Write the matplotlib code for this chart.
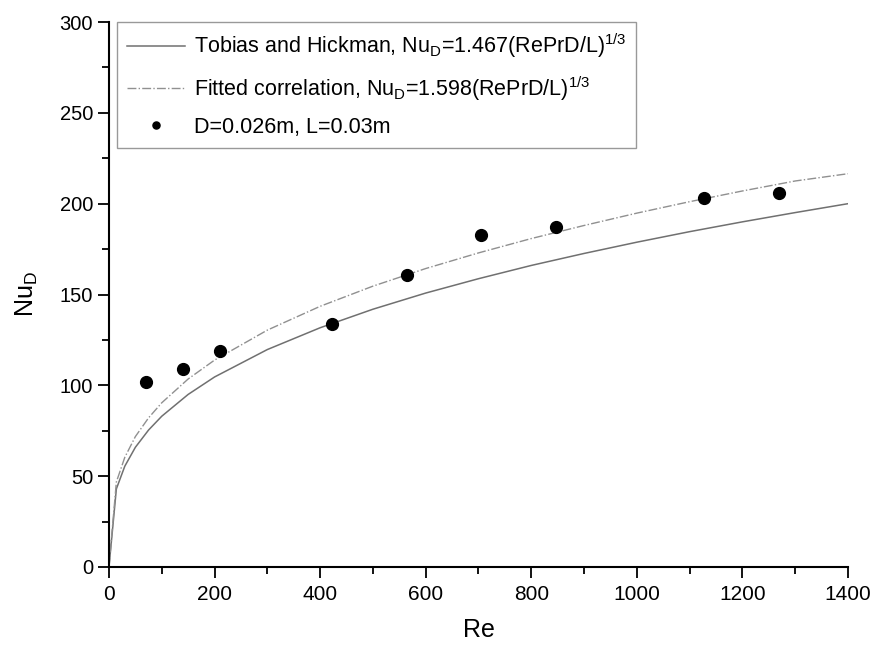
import matplotlib
matplotlib.use("Agg")
import matplotlib.pyplot as plt
from matplotlib.ticker import MultipleLocator

plt.rcParams['font.family'] = ['Liberation Sans', 'DejaVu Sans']
plt.rcParams['mathtext.fontset'] = 'custom'
plt.rcParams['mathtext.rm'] = 'Liberation Sans'
plt.rcParams['mathtext.it'] = 'Liberation Sans'

# values
re_curve = [0, 14, 30, 50, 75, 100, 150, 200, 300, 400, 500, 600, 700,
            800, 900, 1000, 1100, 1200, 1300, 1400]
nu_tobias = [0, 43.0, 55.5, 65.9, 75.4, 83.0, 95.0, 104.6, 119.7, 131.7,
             141.9, 150.8, 158.7, 166.0, 172.6, 178.8, 184.6, 190.0, 195.1, 200.0]
nu_fitted = [0, 46.8, 60.4, 71.8, 82.1, 90.4, 103.5, 113.9, 130.4, 143.5,
             154.6, 164.3, 172.9, 180.8, 188.0, 194.8, 201.1, 207.0, 212.5, 216.5]

# measured points
re_meas = [70, 141, 211, 423, 564, 705, 846, 1128, 1270]
nu_meas = [102, 109, 119, 134, 161, 183, 187, 203, 206]

fig = plt.figure(figsize=(8.76, 6.48), dpi=100)
ax = fig.add_axes([0.1244, 0.125, 0.8436, 0.841])

ax.plot(re_curve, nu_tobias, color='#707070', lw=1.1,
        label=r'Tobias and Hickman, Nu$_\mathregular{D}$=1.467(RePrD/L)$^\mathregular{1/3}$')
ax.plot(re_curve, nu_fitted, color='#909090', lw=1.0, ls='-.',
        label=r'Fitted correlation, Nu$_\mathregular{D}$=1.598(RePrD/L)$^\mathregular{1/3}$')
ax.plot(re_meas, nu_meas, 'o', color='black', ms=8.5, label='D=0.026m, L=0.03m')

ax.set_xlim(0, 1400)
ax.set_ylim(0, 300)
ax.xaxis.set_major_locator(MultipleLocator(200))
ax.xaxis.set_minor_locator(MultipleLocator(100))
ax.yaxis.set_major_locator(MultipleLocator(50))
ax.yaxis.set_minor_locator(MultipleLocator(25))

ax.spines['top'].set_visible(False)
ax.spines['right'].set_visible(False)
ax.spines['left'].set_linewidth(1.5)
ax.spines['bottom'].set_linewidth(1.5)

ax.tick_params(which='major', direction='out', length=8, width=1.3)
ax.tick_params(which='minor', direction='out', length=5, width=1.3)
ax.tick_params(axis='y', labelsize=14.5)
ax.tick_params(axis='x', labelsize=15, pad=5)

ax.set_xlabel('Re', fontsize=18, labelpad=10)
ax.set_ylabel(r'Nu$_\mathregular{D}$', fontsize=18, labelpad=14)

leg = ax.legend(loc='upper left', bbox_to_anchor=(0.011, 1.0), fontsize=15.5,
                frameon=True, fancybox=False, borderpad=0.45, labelspacing=0.65,
                handlelength=2.7, handletextpad=0.4, borderaxespad=0.0,
                markerscale=0.6)
leg.get_frame().set_edgecolor('#808080')
leg.get_frame().set_linewidth(1.0)

plt.savefig('out.png', dpi=100)
